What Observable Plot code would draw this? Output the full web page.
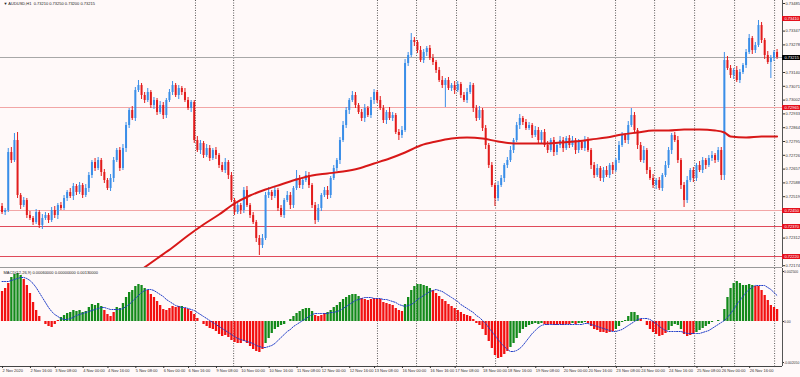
<!DOCTYPE html>
<html>
<head>
<meta charset="utf-8">
<script src="https://cdn.jsdelivr.net/npm/d3@7"></script>
<script src="https://cdn.jsdelivr.net/npm/@observablehq/plot@0.6"></script>
<style>
  html, body { margin: 0; padding: 0; background: #fff9f9; }
  #chart { width: 800px; height: 377px; overflow: hidden; }
  #chart svg { display: block; }
</style>
</head>
<body>
<div id="chart"></div>
<script>
// ---------- DATA (prices in points: 1 point = 0.00001) ----------
const titleText = "\u25BC AUDUSD,H1  0.73210 0.73250 0.73200 0.73215";
const macdTitle = "MACD(12,26,9) 0.00060000 0.00000000 0.00130000";

const firstOpenPts = 72470;
const closePts = [
  72440,72450,72740,72700,72800,72525,72475,72500,72425,72410,
  72390,72440,72375,72410,72425,72400,72450,72425,72475,72460,
  72510,72540,72520,72570,72540,72575,72525,72560,72625,72690,
  72660,72700,72640,72600,72560,72610,72700,72750,72660,72760,
  72875,72950,72910,73050,73075,73025,73000,73040,72975,73000,
  72940,72975,72925,73000,73040,73075,73025,73060,73040,73000,
  72960,72990,72800,72750,72785,72725,72760,72710,72750,72725,
  72675,72650,72690,72625,72500,72440,72475,72450,72550,72475,
  72425,72390,72310,72275,72310,72525,72540,72520,72550,72460,
  72425,72500,72525,72475,72560,72610,72575,72600,72625,72575,
  72475,72400,72460,72525,72550,72525,72610,72660,72700,72800,
  72875,72950,73000,73025,72975,72940,72910,72960,72925,73000,
  73040,73000,72960,72900,72940,72910,72925,72840,72825,72850,
  73185,73225,73300,73290,73250,73200,73240,73260,73210,73190,
  73150,73100,73075,73100,73060,73075,73050,73080,73025,73000,
  73040,73075,72960,72910,72950,72860,72775,72675,72575,72510,
  72575,72610,72675,72700,72750,72800,72875,72910,72890,72860,
  72875,72825,72850,72800,72840,72775,72750,72800,72740,72775,
  72800,72760,72810,72775,72800,72750,72790,72760,72800,72750,
  72675,72625,72660,72610,72650,72625,72675,72650,72700,72775,
  72825,72800,72875,72925,72850,72775,72700,72750,72650,72610,
  72575,72600,72560,72625,72675,72750,72825,72800,72700,72575,
  72500,72600,72650,72610,72675,72650,72700,72675,72710,72725,
  72700,72750,72625,73200,73160,73125,73150,73100,73140,73175,
  73240,73310,73250,73275,73375,73300,73225,73190,73210,73240,
  73215
];
const upperWick = [
  15,10,20,25,35,40,10,15,10,20, 10,15,10,20,15,10,15,20,10,15,
  15,10,20,15,10,15,10,20,15,10, 20,15,10,15,10,20,15,10,15,20,
  15,10,20,15,25,10,15,20,10,15, 10,20,15,10,15,20,10,15,10,20,
  15,10,10,20,15,10,20,15,10,15, 10,15,20,10,15,10,15,10,15,20,
  10,15,10,15,20,15,25,10,15,10, 15,10,20,15,10,40,15,10,20,15,
  10,15,20,10,15,20,10,15,10,15, 20,15,10,20,15,10,15,20,10,15,
  15,10,20,15,10,25,15,10,15,20, 20,15,35,15,10,20,15,10,15,20,
  10,15,20,10,15,10,20,15,10,15, 20,15,10,15,20,10,15,10,15,10,
  20,15,10,15,20,10,15,20,10,15, 15,10,20,15,10,15,20,10,15,10,
  20,15,10,15,20,10,15,10,20,15, 10,15,20,10,15,20,10,15,10,20,
  15,10,20,35,15,10,15,20,10,15, 20,10,15,10,20,15,10,15,20,10,
  15,20,10,15,10,20,15,10,15,20, 10,15,15,40,20,15,10,20,15,10,
  15,20,10,15,25,15,10,20,15,10, 15
];
const lowerWick = [
  10,15,10,15,10,15,20,10,15,10, 15,10,15,20,10,15,10,15,20,10,
  10,15,10,20,15,10,15,10,20,15, 15,10,20,15,10,15,20,10,15,10,
  20,15,10,15,10,20,15,10,15,20, 15,10,20,15,10,15,10,20,15,10,
  10,20,15,10,20,15,10,15,10,20, 15,10,15,20,10,15,10,20,15,10,
  15,10,20,50,15,10,15,20,10,15, 10,15,10,20,15,10,15,20,10,15,
  15,20,10,15,10,20,15,10,15,20, 10,15,20,10,15,10,15,20,10,15,
  20,15,10,15,20,10,15,10,25,15, 10,15,10,20,15,10,15,20,10,15,
  15,10,15,110,10,15,20,10,15,10, 15,10,20,15,10,15,20,15,10,40,
  15,10,20,15,10,15,10,20,15,10, 10,15,10,20,15,10,15,10,20,15,
  15,20,10,15,10,20,15,10,15,10, 20,15,10,15,20,10,15,20,10,15,
  10,15,20,10,15,20,10,15,20,10, 15,20,10,15,10,15,20,10,15,20,
  35,15,10,20,15,10,15,20,10,15, 15,10,25,25,10,15,20,10,15,10,
  15,10,20,15,10,15,20,10,80,15, 10
];

// moving average (bar index, points)
const maIdx = [45,50,55,60,65,70,75,80,85,90,95,100,105,110,115,120,125,130,135,140,
  145,150,155,160,165,170,175,180,185,190,195,200,205,210,215,220,225,230,233,235,240,245,250];
const maPts = [72155,72210,72265,72325,72380,72430,72485,72525,72555,72580,72605,72625,72635,72645,72660,72685,72710,72740,72775,72795,
  72810,72815,72810,72795,72785,72785,72785,72790,72795,72805,72815,72830,72840,72850,72850,72855,72855,72850,72840,72820,72815,72820,72820];

// MACD main and signal (points)
const macdPts = [
  150,165,190,220,235,240,230,210,180,140, 95,55,25,0,-15,-25,-30,-15,5,20,
  30,40,45,55,50,55,45,50,70,85, 80,90,75,55,35,25,45,70,65,90,
  120,145,155,175,185,180,165,155,135,120, 100,80,60,55,65,75,70,75,75,65,
  60,50,35,15,0,-15,-25,-35,-40,-50, -65,-75,-70,-80,-95,-105,-110,-110,-100,-110,
  -125,-140,-150,-155,-140,-110,-85,-60,-40,-30, -20,-15,0,10,25,40,50,60,65,65,
  50,30,25,30,40,45,55,70,80,95, 110,120,130,135,135,125,115,110,105,110,
  115,115,110,95,90,85,80,65,55,50, 85,120,155,175,185,185,180,175,165,155,
  140,125,110,100,85,75,65,55,45,35, 30,25,10,-10,-20,-40,-70,-100,-135,-170,
  -185,-180,-165,-150,-130,-110,-85,-60,-40,-30, -20,-15,-10,-15,-10,-15,-20,-15,-20,-20,
  -15,-20,-15,-15,-10,-15,-10,-10,-5,-10, -25,-40,-45,-55,-55,-60,-55,-50,-40,-25,
  -5,5,25,45,45,30,10,0,-20,-40, -55,-65,-75,-70,-60,-45,-25,-15,-20,-40,
  -65,-75,-70,-65,-55,-45,-35,-25,-15,-5, 0,5,0,60,120,165,190,200,190,180,
  180,185,180,175,175,155,130,105,80,70, 60
];
const signalPts = [
  200,200,200,205,210,215,220,220,215,205, 190,170,145,120,95,70,50,35,25,15,
  10,10,15,20,30,35,40,45,50,55, 60,65,70,70,65,60,60,60,60,65,
  75,85,100,115,130,145,155,160,160,155, 145,135,125,110,100,90,80,75,70,70,
  65,60,55,45,35,25,15,5,-5,-15, -25,-35,-45,-55,-65,-75,-85,-90,-95,-100,
  -105,-110,-120,-125,-130,-130,-125,-120,-110,-95, -80,-65,-50,-40,-25,-15,-5,5,15,25,
  35,40,40,40,40,40,45,45,50,55, 65,75,85,95,105,110,115,120,120,120,
  115,115,115,110,110,105,100,95,85,80, 75,80,85,95,110,120,130,140,150,155,
  160,155,150,140,130,120,110,100,85,75, 65,55,45,30,20,5,-10,-30,-50,-70,
  -90,-110,-125,-140,-150,-150,-145,-135,-120,-100, -80,-60,-45,-30,-20,-15,-15,-15,-15,-15,
  -15,-15,-15,-15,-15,-15,-15,-15,-10,-10, -15,-20,-25,-30,-35,-40,-45,-50,-50,-45,
  -40,-30,-20,-10,0,10,15,15,15,10, 0,-10,-25,-35,-45,-50,-50,-50,-50,-50,
  -55,-60,-60,-60,-60,-60,-55,-50,-45,-35, -25,-15,-5,5,20,40,60,85,105,125,
  145,160,170,180,180,180,180,170,160,145, 130
];

// price axis ticks (points), level lines (points), markers
const priceTicks = [73485,73416,73347,73278,73209,73140,73071,73002,72933,72864,
  72795,72726,72657,72588,72519,72450,72381,72312,72243,72174];
const levelPts = [72965, 72450, 72370, 72220];
const markerPts = [73410];
const bidPts = 73215;
const macdAxisPts = [250, 0, -205];

// period separators (bar index) and time-axis labels
const separatorIdx = [62.4, 74.7, 121.1, 133.7, 146.6, 159.2, 197.9, 210.5, 223.4, 236.3, 249.2];
const timeLabelIdx = [0,9,17,26,34,43,52,60,69,77,86,95,103,112,120,129,138,146,155,163,172,181,189,198,206,215,224,232,241];
const timeLabels = ["2 Nov 2020","2 Nov 16:00","3 Nov 08:00","4 Nov 00:00","4 Nov 16:00","5 Nov 08:00",
  "6 Nov 00:00","6 Nov 16:00","9 Nov 08:00","10 Nov 00:00","10 Nov 16:00","11 Nov 08:00",
  "12 Nov 00:00","12 Nov 16:00","13 Nov 08:00","16 Nov 00:00","16 Nov 16:00","17 Nov 08:00",
  "18 Nov 00:00","18 Nov 16:00","19 Nov 08:00","20 Nov 00:00","20 Nov 16:00","23 Nov 08:00",
  "24 Nov 00:00","24 Nov 16:00","25 Nov 08:00","26 Nov 00:00","26 Nov 16:00"];

// ---------- STYLES ----------
const BG = "#fff9f9";
const BULL = "#3a8ee8", BEAR = "#e21c1c";
const MA_COLOR = "#d81818";
const GREEN = "#138a1a", RED = "#f21010";
const SIGNAL = "#1e3cc8";
const LEVEL_STROKES = ["#f2a6a6", "#f2a6a6", "#e04a5a", "#e04a5a"];
const LABEL_RED = "#e5101c";
const FONT = "'Liberation Sans', Arial, sans-serif";

// ---------- BUILD ----------
const N = closePts.length;
const xDomain = [-0.5, N + 0.75];
const xMax = xDomain[1];
const toP = v => v / 1e5;

const bars = closePts.map((c, i) => {
  const o = i === 0 ? firstOpenPts : closePts[i - 1];
  return {
    i, open: toP(o), close: toP(c),
    high: toP(Math.max(o, c) + upperWick[i]),
    low: toP(Math.min(o, c) - lowerWick[i]),
    bull: c >= o
  };
});
const ma = maIdx.map((i, k) => ({ i, v: toP(maPts[k]) }));
const levels = levelPts.map((p, k) => ({ p: toP(p), k }));
const flagged = [...markerPts, ...levelPts, bidPts];
const redLabels = [...markerPts, ...levelPts].map(p => ({ p: toP(p) }));
// regular price labels hidden where a flagged label sits on top of them
const shownTicks = priceTicks.filter(t => flagged.every(f => Math.abs(f - t) > 25));
const macd = macdPts.map((m, i) => ({ i, m: toP(m), s: toP(signalPts[i]) }));
const labelMap = new Map(timeLabelIdx.map((b, k) => [b, timeLabels[k]]));

const yMin = toP(72165), yMaxP = toP(73500);

const main = Plot.plot({
  width: 800, height: 268,
  marginTop: 0, marginBottom: 1, marginLeft: 0, marginRight: 18,
  style: { background: BG, fontFamily: FONT, fontSize: "4px", color: "#222" },
  x: { domain: xDomain, axis: null },
  y: { domain: [yMin, yMaxP], axis: null },
  marks: [
    Plot.ruleX(separatorIdx, { stroke: "#333", strokeDasharray: "1,1.5", strokeWidth: 0.8 }),
    Plot.ruleY(levels, { y: "p", stroke: d => LEVEL_STROKES[d.k], strokeWidth: 1 }),
    Plot.ruleY([toP(bidPts)], { stroke: "#a8a8a8", strokeWidth: 1 }),
    Plot.ruleX(bars, { x: "i", y1: "low", y2: "high", stroke: d => d.bull ? BULL : BEAR, strokeWidth: 1 }),
    Plot.ruleX(bars, { x: "i", y1: "open", y2: "close", stroke: d => d.bull ? BULL : BEAR, strokeWidth: 2 }),
    Plot.line(ma, { x: "i", y: "v", stroke: MA_COLOR, strokeWidth: 2, curve: "monotone-x", clip: true }),
    Plot.ruleY([yMin], { stroke: "#9a9a9a" }),
    Plot.ruleX([xMax], { stroke: "#555" }),
    Plot.axisY({ anchor: "right", ticks: shownTicks.map(toP), tickFormat: d => d.toFixed(5),
      tickSize: 2, tickPadding: 1, fontSize: 4, label: null, color: "#333" }),
    Plot.ruleY(redLabels, { y: "p", x1: () => xMax, x2: () => xMax + 7, stroke: LABEL_RED, strokeWidth: 5 }),
    Plot.text(redLabels, { y: "p", frameAnchor: "right", dx: 2, textAnchor: "start", text: d => d.p.toFixed(5), fill: "white", fontSize: 4 }),
    Plot.ruleY([toP(bidPts)], { x1: () => xMax, x2: () => xMax + 7, stroke: "#000", strokeWidth: 5 }),
    Plot.text([toP(bidPts)], { y: d => d, frameAnchor: "right", dx: 2, textAnchor: "start", text: d => d.toFixed(5), fill: "white", fontSize: 4 }),
    Plot.text([titleText], { frameAnchor: "top-left", dx: 3, dy: 2, lineAnchor: "top", fontSize: 4, fill: "#222" })
  ]
});

const sub = Plot.plot({
  width: 800, height: 109,
  marginTop: 0, marginBottom: 11, marginLeft: 0, marginRight: 18,
  style: { background: BG, fontFamily: FONT, fontSize: "4px", color: "#222" },
  x: { domain: xDomain },
  y: { domain: [toP(-225), toP(265)], axis: null },
  marks: [
    Plot.ruleX(separatorIdx, { stroke: "#333", strokeDasharray: "1,1.5", strokeWidth: 0.8 }),
    Plot.ruleX(macd, { x: "i", y1: 0, y2: "m", stroke: d => d.m > d.s ? GREEN : RED, strokeWidth: 2.3 }),
    Plot.line(macd, { x: "i", y: "s", stroke: SIGNAL, strokeWidth: 1, strokeDasharray: "1.2,1.3" }),
    Plot.ruleX([xMax], { stroke: "#555" }),
    Plot.ruleY([toP(-225)], { stroke: "#444" }),
    Plot.axisY({ anchor: "right", ticks: macdAxisPts.map(toP),
      tickFormat: d => d === 0 ? "0.00" : d.toFixed(6),
      tickSize: 1, tickPadding: 0.5, fontSize: 3.4, label: null, color: "#333" }),
    Plot.axisX({ anchor: "bottom", ticks: timeLabelIdx, tickFormat: d => labelMap.get(d),
      tickSize: 2, tickPadding: 1, textAnchor: "start", dx: 0.5, fontSize: 4, label: null, color: "#333" }),
    Plot.text([macdTitle], { frameAnchor: "top-left", dx: 3, dy: 3, lineAnchor: "top", fontSize: 4, fill: "#222" })
  ]
});

const root = document.getElementById("chart");
root.appendChild(main);
root.appendChild(sub);
</script>
</body>
</html>
